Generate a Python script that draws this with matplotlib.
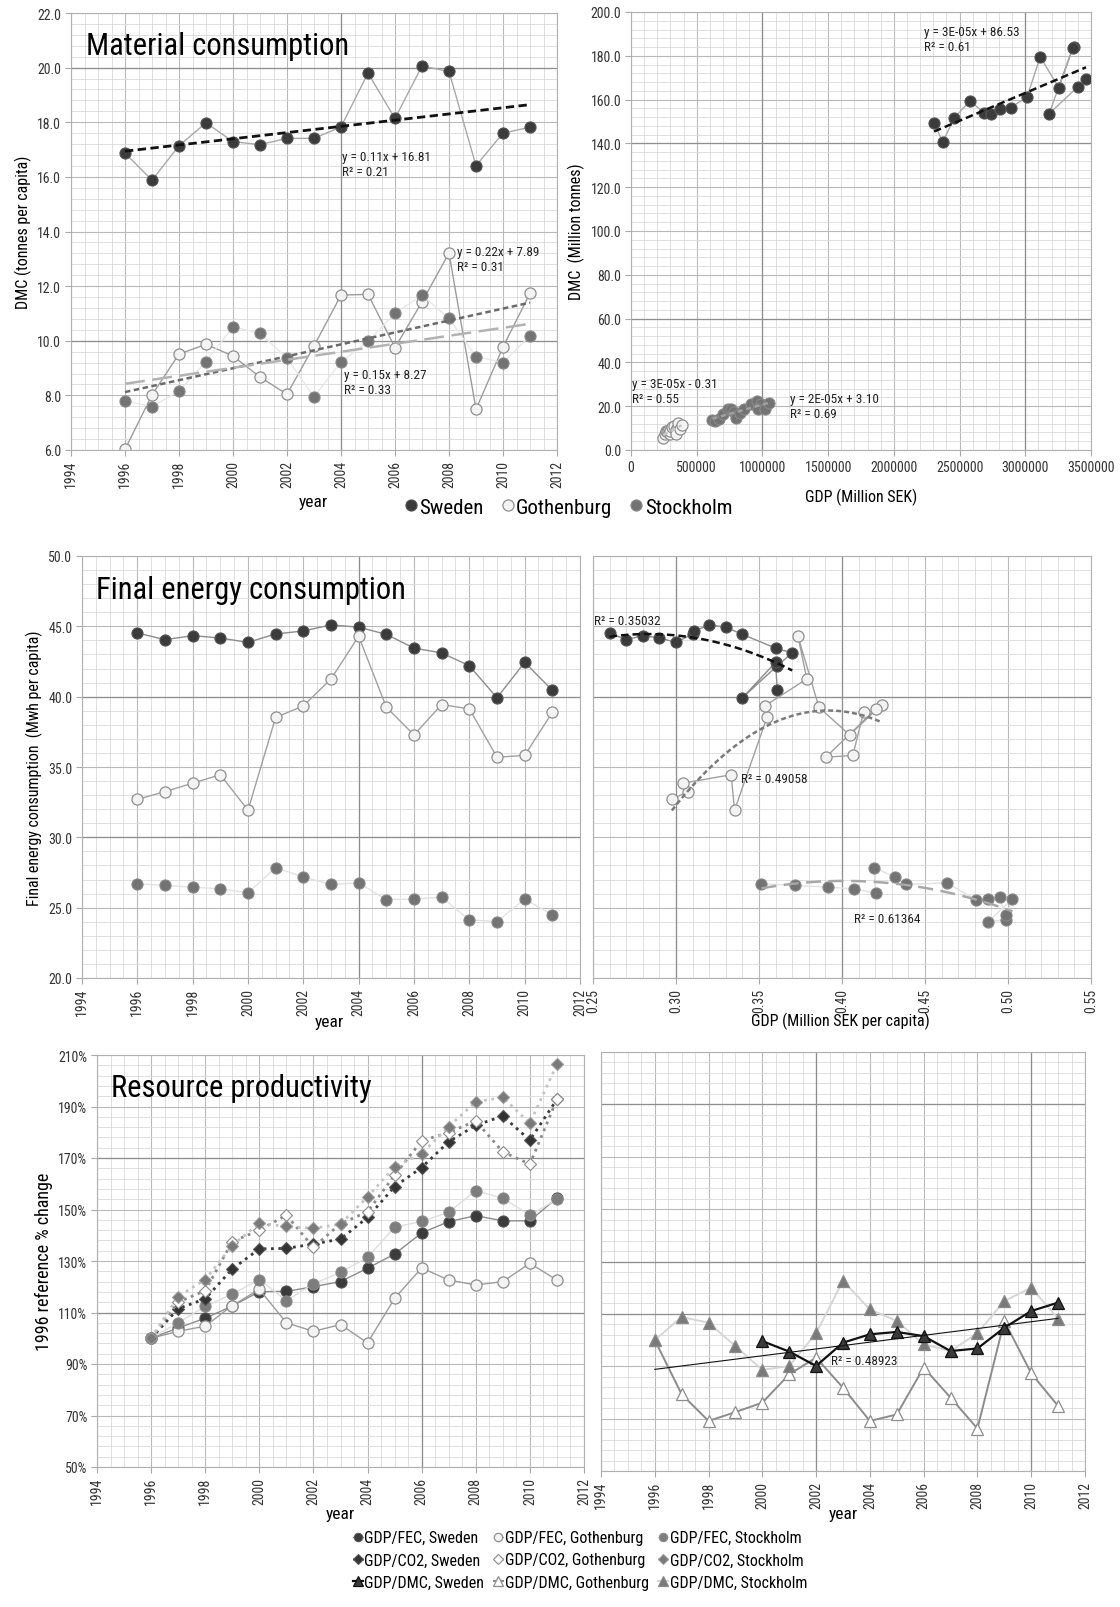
import numpy as np
import matplotlib
matplotlib.use("Agg")
import matplotlib.pyplot as plt
from matplotlib.ticker import MultipleLocator, FuncFormatter
from matplotlib.lines import Line2D

plt.rcParams['font.family'] = ['Liberation Sans Narrow', 'DejaVu Sans Condensed',
                               'Roboto Condensed', 'Roboto', 'DejaVu Sans']

# ---------------------------------------------------------
# data
# ---------------------------------------------------------
years = list(range(1996, 2012))

# DMC per capita (tonnes)
dmc_pc_sweden = [16.87, 15.88, 17.14, 17.98, 17.29, 17.18, 17.41, 17.41,
                 17.83, 19.80, 18.14, 20.06, 19.86, 16.41, 17.60, 17.82]
dmc_pc_gothenburg = [6.02, 8.02, 9.51, 9.87, 9.44, 8.67, 8.04, 9.81,
                     11.67, 11.70, 9.75, 11.42, 13.21, 7.49, 9.77, 11.74]
dmc_pc_stockholm = [7.80, 7.59, 8.16, 9.24, 10.51, 10.27, 9.36, 7.95,
                    9.22, 9.98, 11.00, 11.67, 10.82, 9.42, 9.20, 10.18]

# DMC (Mt) vs GDP (MSEK)
gdp_sweden = [2306000, 2371000, 2461000, 2578000, 2687000, 2741000, 2806000, 2888000,
              3013000, 3114000, 3255000, 3367000, 3360000, 3182000, 3399000, 3462000]
dmc_sweden = [149.5, 140.6, 151.7, 159.4, 154.0, 153.3, 155.6, 156.3,
              161.2, 179.5, 165.4, 184.2, 183.5, 153.6, 165.8, 169.3]
gdp_gothenburg = [245000, 255000, 265000, 275000, 285000, 290000, 295000, 300000,
                  315000, 325000, 340000, 355000, 360000, 345000, 370000, 385000]
dmc_gothenburg = [5.3, 7.1, 8.5, 8.8, 8.5, 7.8, 7.3, 8.9,
                  10.7, 10.8, 9.1, 10.7, 12.5, 7.2, 9.5, 11.5]
gdp_stockholm = [620000, 640000, 670000, 700000, 740000, 760000, 780000, 800000,
                 830000, 860000, 910000, 960000, 990000, 970000, 1020000, 1050000]
dmc_stockholm = [13.5, 13.2, 14.3, 16.4, 18.9, 18.7, 17.2, 14.7,
                 17.1, 18.7, 20.8, 22.4, 21.1, 18.7, 18.9, 21.3]

# final energy consumption per capita (MWh)
fec_sweden = [44.53, 44.05, 44.34, 44.17, 43.86, 44.46, 44.67, 45.10,
              44.94, 44.43, 43.45, 43.11, 42.20, 39.92, 42.44, 40.45]
fec_gothenburg = [32.70, 33.25, 33.85, 34.45, 31.93, 38.53, 39.34, 41.26,
                  44.29, 39.25, 37.28, 39.44, 39.13, 35.70, 35.82, 38.89]
fec_stockholm = [26.70, 26.58, 26.46, 26.34, 26.05, 27.85, 27.18, 26.65,
                 26.77, 25.57, 25.62, 25.74, 24.13, 24.01, 25.62, 24.49]

# GDP per capita (MSEK)
gdppc_sweden = [0.260, 0.270, 0.280, 0.290, 0.300, 0.310, 0.311, 0.320,
                0.330, 0.340, 0.360, 0.370, 0.361, 0.340, 0.360, 0.361]
gdppc_gothenburg = [0.2975, 0.307, 0.3042, 0.3332, 0.3353, 0.3548, 0.3535, 0.3788,
                    0.3735, 0.3861, 0.4046, 0.424, 0.4204, 0.3903, 0.4065, 0.413]
gdppc_stockholm = [0.3515, 0.3717, 0.3918, 0.4071, 0.4202, 0.4193, 0.4317, 0.4387,
                   0.463, 0.4807, 0.488, 0.4954, 0.4985, 0.488, 0.5027, 0.499]

# resource productivity, 1996 = 100 %
fec_prod_sweden = [100, 104, 107.8, 112.5, 118.1, 118.2, 120.0, 122.0,
                   127.2, 132.7, 140.9, 145.3, 147.6, 145.6, 145.6, 154.5]
fec_prod_gothenburg = [100, 102.7, 104.7, 112.7, 119.0, 106.0, 102.7, 105.3,
                       98.2, 115.5, 127.3, 122.6, 120.7, 122.0, 129.1, 122.6]
fec_prod_stockholm = [100, 106.0, 112.4, 117.2, 122.8, 114.6, 121.1, 125.6,
                      131.4, 143.1, 145.4, 148.9, 157.3, 154.4, 147.8, 154.0]
co2_prod_sweden = [100, 111.5, 115.3, 126.9, 134.7, 134.9, 136.6, 138.5,
                   146.9, 158.9, 166.3, 176.3, 182.7, 186.3, 176.9, 192.8]
co2_prod_gothenburg = [100, 114.0, 118.5, 137.5, 142.0, 147.8, 135.3, 144.5,
                       149.1, 163.3, 176.7, 179.9, 184.4, 172.4, 167.6, 192.8]
co2_prod_stockholm = [100, 116.2, 122.8, 136.0, 144.7, 143.4, 142.7, 144.3,
                      154.9, 166.6, 171.7, 182.2, 191.8, 193.5, 183.5, 206.4]
dmc_prod_sweden = [np.nan, np.nan, np.nan, np.nan, 99.6, 95.6, 90.1, 99.0,
                   102.2, 103.1, 101.5, 95.8, 96.8, 104.7, 111.1, 114.3]
dmc_prod_gothenburg = [100, 79.3, 69.1, 72.5, 76.1, 86.9, 93.3, 81.8,
                       69.1, 71.6, 89.5, 78.0, 66.2, 107.3, 87.3, 74.8]
dmc_prod_stockholm = [100, 108.8, 106.6, 97.7, 88.6, 90.1, 102.6, 122.6,
                      111.7, 107.3, 98.4, 95.8, 102.6, 114.9, 120.0, 108.2]

# ---------------------------------------------------------
# layout helpers
# ---------------------------------------------------------
W, H = 1120, 1608
fig = plt.figure(figsize=(W / 100, H / 100), dpi=100)
fig.patch.set_facecolor('white')

TICK_FS = 10
LABEL_FS = 11.5
TITLE_FS = 22
ANN_FS = 9.5


def box(l, t, r, b):
    return [l / W, 1 - b / H, (r - l) / W, (b - t) / H]


def ftext(x, y, s, **kw):
    fig.text(x / W, 1 - y / H, s, **kw)


def style_grid(ax, xmaj, xmin, ymaj, ymin, heavy_x=(), heavy_y=(), yoff=0.0):
    ax.xaxis.set_major_locator(MultipleLocator(xmaj))
    ax.xaxis.set_minor_locator(MultipleLocator(xmin))
    ax.yaxis.set_major_locator(MultipleLocator(ymaj, offset=yoff))
    ax.yaxis.set_minor_locator(MultipleLocator(ymin, offset=yoff))
    ax.set_axisbelow(True)
    ax.grid(which='minor', color='#dadada', lw=0.6)
    ax.grid(which='major', color='#b9b9b9', lw=0.8)
    for v in heavy_x:
        ax.axvline(v, color='#8e8e8e', lw=0.9, zorder=0.6)
    for v in heavy_y:
        ax.axhline(v, color='#8e8e8e', lw=0.9, zorder=0.6)
    ax.tick_params(which='minor', length=0)
    ax.tick_params(which='major', length=4, color='#a8a8a8', labelsize=TICK_FS,
                   labelcolor='#333333', pad=3)
    for s in ax.spines.values():
        s.set_color('#b0b0b0')
        s.set_linewidth(0.8)


def year_axis(ax):
    ax.set_xlim(1994, 2012)
    ax.xaxis.set_major_formatter(FuncFormatter(lambda v, p: f"{v:.0f}"))
    for lab in ax.get_xticklabels():
        lab.set_rotation(90)


SWE = dict(marker='o', ms=8, mfc='#3b3b3b', mec='#555555', mew=0.8)
GOT = dict(marker='o', ms=8, mfc='#f3f3f3', mec='#8f8f8f', mew=0.9)
STO = dict(marker='o', ms=8, mfc='#737373', mec='#8a8a8a', mew=0.8)

ann = dict(fontsize=ANN_FS, color='#222222', va='top', ha='left')

# ---------------------------------------------------------
# 1. material consumption per capita
# ---------------------------------------------------------
ax1 = fig.add_axes(box(71, 14, 557, 451))
ax1.plot(years, dmc_pc_sweden, color='#a8a8a8', lw=1, zorder=2, **SWE)
ax1.plot(years, dmc_pc_gothenburg, color='#9c9c9c', lw=1, zorder=2, **GOT)
ax1.plot(years, dmc_pc_stockholm, color='#e8e8e8', lw=1, zorder=2, **STO)
yr = np.array(years)
for vals, col, dash, lw in [(dmc_pc_sweden, '#111111', (3, 1.6), 2.0),
                            (dmc_pc_gothenburg, '#6a6a6a', (2.2, 1.4), 1.8),
                            (dmc_pc_stockholm, '#b2b2b2', (8, 3), 1.8)]:
    k, c = np.polyfit(yr, vals, 1)
    ax1.plot(yr[[0, -1]], k * yr[[0, -1]] + c, color=col, lw=lw,
             dashes=dash, zorder=4)
ax1.set_ylim(6, 22)
style_grid(ax1, 2, 0.5, 2, 0.4, heavy_x=[2004], heavy_y=[20, 10])
year_axis(ax1)
ax1.yaxis.set_major_formatter(FuncFormatter(lambda v, p: f"{v:.1f}"))
ax1.text(2004.05, 16.98, "y = 0.11x + 16.81\nR² = 0.21", **ann)
ax1.text(2008.3, 13.5, "y = 0.22x + 7.89\nR² = 0.31", **ann)
ax1.text(2004.1, 9.0, "y = 0.15x + 8.27\nR² = 0.33", **ann)
ax1.text(1994.55, 20.8, "Material consumption", fontsize=TITLE_FS, va='center')
ax1.set_ylabel("DMC (tonnes per capita)", fontsize=LABEL_FS, labelpad=4)

# ---------------------------------------------------------
# 2. DMC vs GDP
# ---------------------------------------------------------
ax2 = fig.add_axes(box(631, 13, 1091, 451))
ax2.plot(gdp_sweden, dmc_sweden, color='#a8a8a8', lw=1, zorder=2, **SWE)
ax2.plot(gdp_gothenburg, dmc_gothenburg, color='#d0d0d0', lw=1, zorder=2, **GOT)
ax2.plot(gdp_stockholm, dmc_stockholm, color='#9a9a9a', lw=1, zorder=2, **STO)
for gx, gy, col, dash in [(gdp_sweden, dmc_sweden, '#111111', (3, 1.6)),
                          (gdp_gothenburg, dmc_gothenburg, '#c8c8c8', (2, 1.5)),
                          (gdp_stockholm, dmc_stockholm, '#a0a0a0', (2, 1.5))]:
    gx = np.array(gx, dtype=float)
    k, c = np.polyfit(gx, gy, 1)
    xs = np.array([gx.min(), gx.max()])
    ax2.plot(xs, k * xs + c, color=col, lw=1.8, dashes=dash, zorder=4)
ax2.set_xlim(0, 3500000)
ax2.set_ylim(0, 200)
style_grid(ax2, 500000, 100000, 20, 4, heavy_x=[1000000, 3000000], heavy_y=[140, 60])
ax2.xaxis.set_major_formatter(FuncFormatter(lambda v, p: f"{v:.0f}"))
ax2.yaxis.set_major_formatter(FuncFormatter(lambda v, p: f"{v:.1f}"))
ax2.text(2230000, 194, "y = 3E-05x + 86.53\nR² = 0.61", **ann)
ax2.text(5000, 33.5, "y = 3E-05x - 0.31\nR² = 0.55", **ann)
ax2.text(1213000, 26.7, "y = 2E-05x + 3.10\nR² = 0.69", **ann)
ax2.set_ylabel("DMC  (Million tonnes)", fontsize=LABEL_FS, labelpad=4)

ftext(313, 503, "year", fontsize=LABEL_FS + 1, ha='center', va='center')
ftext(861, 497, "GDP (Million SEK)", fontsize=LABEL_FS, ha='center', va='center')

top_handles = [Line2D([], [], ls='none', **SWE), Line2D([], [], ls='none', **GOT),
               Line2D([], [], ls='none', **STO)]
fig.legend(top_handles, ["Sweden", "Gothenburg", "Stockholm"], ncol=3,
           loc='center', bbox_to_anchor=(568 / W, 1 - 508 / H), frameon=False,
           fontsize=15, handlelength=0.7, handletextpad=0.05, columnspacing=0.8)

# ---------------------------------------------------------
# 3. final energy consumption per capita
# ---------------------------------------------------------
ax3 = fig.add_axes(box(82, 557, 580, 979))
ax3.plot(years, fec_sweden, color='#8c8c8c', lw=1, zorder=2, **SWE)
ax3.plot(years, fec_gothenburg, color='#a0a0a0', lw=1, zorder=2, **GOT)
ax3.plot(years, fec_stockholm, color='#e2e2e2', lw=1, zorder=2, **STO)
ax3.set_ylim(20, 50)
style_grid(ax3, 2, 0.5, 5, 1, heavy_x=[2004], heavy_y=[40, 30])
year_axis(ax3)
ax3.yaxis.set_major_formatter(FuncFormatter(lambda v, p: f"{v:.1f}"))
ax3.text(1994.5, 47.6, "Final energy consumption", fontsize=TITLE_FS, va='center')
ax3.set_ylabel("Final energy consumption  (Mwh per capita)", fontsize=LABEL_FS,
               labelpad=4)

ax4 = fig.add_axes(box(593, 557, 1091, 979))
ax4.plot(gdppc_sweden, fec_sweden, color='#8c8c8c', lw=1, zorder=2, **SWE)
ax4.plot(gdppc_gothenburg, fec_gothenburg, color='#a0a0a0', lw=1, zorder=2, **GOT)
ax4.plot(gdppc_stockholm, fec_stockholm, color='#e2e2e2', lw=1, zorder=2, **STO)
for gx, gy, col, dash in [(gdppc_sweden, fec_sweden, '#111111', (3, 1.6)),
                          (gdppc_gothenburg, fec_gothenburg, '#7a7a7a', (2, 1.2)),
                          (gdppc_stockholm, fec_stockholm, '#a8a8a8', (6, 3))]:
    gx = np.array(gx)
    coef = np.polyfit(gx, gy, 2)
    xs = np.linspace(gx.min(), gx.max(), 100)
    ax4.plot(xs, np.polyval(coef, xs), color=col, lw=1.8, dashes=dash, zorder=4)
ax4.set_xlim(0.25, 0.55)
ax4.set_ylim(20, 50)
style_grid(ax4, 0.05, 0.01, 5, 1, heavy_x=[0.30, 0.40], heavy_y=[40])
ax4.xaxis.set_major_formatter(FuncFormatter(lambda v, p: f"{v:.2f}"))
for lab in ax4.get_xticklabels():
    lab.set_rotation(90)
ax4.tick_params(axis='y', labelleft=False, length=0)
ax4.text(0.2505, 45.9, "R² = 0.35032", **ann)
ax4.text(0.339, 34.65, "R² = 0.49058", **ann)
ax4.text(0.4073, 24.7, "R² = 0.61364", **ann)

ftext(329, 1023, "year", fontsize=LABEL_FS + 1, ha='center', va='center')
ftext(840, 1021, "GDP (Million SEK per capita)", fontsize=LABEL_FS,
      ha='center', va='center')

# ---------------------------------------------------------
# 4. resource productivity
# ---------------------------------------------------------
pct = FuncFormatter(lambda v, p: f"{v:.0f}%")

ax5 = fig.add_axes(box(97, 1056, 584, 1468))
h_fec_s, = ax5.plot(years, fec_prod_sweden, color='#8c8c8c', lw=1, zorder=3, **SWE)
h_fec_g, = ax5.plot(years, fec_prod_gothenburg, color='#9c9c9c', lw=1, zorder=3, **GOT)
h_fec_t, = ax5.plot(years, fec_prod_stockholm, color='#dedede', lw=1, zorder=3,
                    **dict(STO, mfc='#7d7d7d'))
DIA = dict(marker='D', ms=6.5, mew=0.8)
h_co2_s, = ax5.plot(years, co2_prod_sweden, color='#3a3a3a', lw=2, ls=':', zorder=3,
                    mfc='#333333', mec='#555555', **DIA)
h_co2_g, = ax5.plot(years, co2_prod_gothenburg, color='#8a8a8a', lw=2, ls=':', zorder=3,
                    mfc='white', mec='#8a8a8a', **DIA)
h_co2_t, = ax5.plot(years, co2_prod_stockholm, color='#c4c4c4', lw=2, ls=':', zorder=3,
                    mfc='#7a7a7a', mec='#9a9a9a', **DIA)
ax5.set_ylim(50, 210)
style_grid(ax5, 2, 0.5, 20, 4, heavy_x=[2006], heavy_y=[170, 110], yoff=10)
year_axis(ax5)
ax5.yaxis.set_major_formatter(pct)
ax5.text(1994.5, 197.5, "Resource productivity", fontsize=TITLE_FS, va='center')
ax5.set_ylabel("1996 reference % change", fontsize=LABEL_FS + 1.5, labelpad=4)

ax6 = fig.add_axes(box(601, 1053, 1085, 1472))
TRI = dict(marker='^', ms=9, mew=0.9)
h_dmc_s, = ax6.plot(years, dmc_prod_sweden, color='#111111', lw=1.6, zorder=4,
                    mfc='#3a3a3a', mec='#111111', **TRI)
h_dmc_g, = ax6.plot(years, dmc_prod_gothenburg, color='#8c8c8c', lw=1.4, zorder=3,
                    mfc='white', mec='#8c8c8c', **TRI)
h_dmc_t, = ax6.plot(years, dmc_prod_stockholm, color='#d6d6d6', lw=1.4, zorder=3,
                    mfc='#7a7a7a', mec='#8a8a8a', **TRI)
sw = np.array(dmc_prod_sweden, dtype=float)
ok = ~np.isnan(sw)
k, c = np.polyfit(yr[ok], sw[ok], 1)
ax6.plot(yr[[0, -1]], k * yr[[0, -1]] + c, color='#111111', lw=0.8, zorder=5)
ax6.set_ylim(50, 210)
style_grid(ax6, 2, 0.5, 20, 4, heavy_x=[2002, 2010], heavy_y=[190, 130, 110], yoff=10)
year_axis(ax6)
ax6.tick_params(axis='y', labelleft=False, length=0)
ax6.text(2002.55, 94.6, "R² = 0.48923", **ann)

ftext(340, 1515, "year", fontsize=LABEL_FS + 1, ha='center', va='center')
ftext(843, 1515, "year", fontsize=LABEL_FS + 1, ha='center', va='center')

bottom_handles = [h_fec_s, h_co2_s, h_dmc_s, h_fec_g, h_co2_g, h_dmc_g,
                  h_fec_t, h_co2_t, h_dmc_t]
bottom_labels = ["GDP/FEC, Sweden", "GDP/CO2, Sweden", "GDP/DMC, Sweden",
                 "GDP/FEC, Gothenburg", "GDP/CO2, Gothenburg", "GDP/DMC, Gothenburg",
                 "GDP/FEC, Stockholm", "GDP/CO2, Stockholm", "GDP/DMC, Stockholm"]
fig.legend(bottom_handles, bottom_labels, ncol=3, loc='center',
           bbox_to_anchor=(580 / W, 1 - 1561 / H), frameon=False, fontsize=11.5,
           handlelength=0.6, handletextpad=0.1, columnspacing=0.6,
           labelspacing=0.45, markerscale=0.75)

fig.savefig("out.png", dpi=100, facecolor='white')
